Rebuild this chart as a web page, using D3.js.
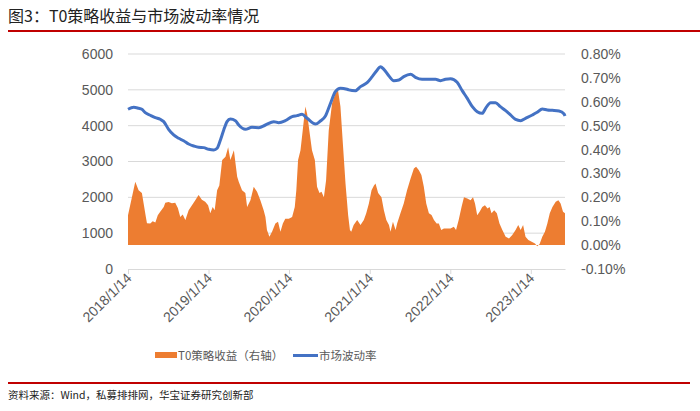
<!DOCTYPE html>
<html><head><meta charset="utf-8">
<script src="https://cdn.jsdelivr.net/npm/d3@7"></script>
<style>
html,body{margin:0;padding:0;background:#fff;}
svg{display:block;font-family:"Liberation Sans",Arial,"Noto Sans CJK SC",sans-serif;}
</style></head>
<body>
<svg id="c" width="700" height="411"></svg>
<script>
// T0 strategy return (%, right axis)
const t0Dates = ["2018-01-14","2018-02-16","2018-03-03","2018-03-18","2018-04-05","2018-04-10","2018-04-25","2018-05-06","2018-05-18","2018-05-29","2018-06-09","2018-06-25","2018-07-02","2018-07-17","2018-08-01","2018-08-16","2018-08-28","2018-09-08","2018-09-19","2018-10-01","2018-10-16","2018-10-31","2018-11-15","2018-11-30","2018-12-15","2018-12-30","2019-01-12","2019-01-22","2019-02-02","2019-02-11","2019-02-22","2019-03-04","2019-03-17","2019-04-01","2019-04-13","2019-04-23","2019-05-09","2019-05-24","2019-05-31","2019-06-15","2019-06-30","2019-07-08","2019-07-23","2019-08-07","2019-08-22","2019-09-06","2019-09-21","2019-09-29","2019-10-06","2019-10-17","2019-10-29","2019-11-13","2019-11-25","2019-12-06","2019-12-17","2019-12-28","2020-01-13","2020-01-28","2020-02-09","2020-02-16","2020-02-24","2020-03-06","2020-03-16","2020-03-28","2020-04-05","2020-04-15","2020-04-27","2020-05-10","2020-05-20","2020-05-31","2020-06-09","2020-06-20","2020-06-30","2020-07-12","2020-07-27","2020-08-11","2020-08-23","2020-09-03","2020-09-14","2020-09-26","2020-10-08","2020-10-16","2020-10-22","2020-11-02","2020-11-18","2020-12-03","2020-12-18","2020-12-29","2021-01-10","2021-01-22","2021-02-02","2021-02-09","2021-02-21","2021-03-08","2021-03-19","2021-03-30","2021-04-11","2021-04-18","2021-04-29","2021-05-11","2021-05-18","2021-06-02","2021-06-17","2021-07-02","2021-07-18","2021-08-02","2021-08-12","2021-08-24","2021-09-05","2021-09-16","2021-09-27","2021-10-09","2021-10-21","2021-11-01","2021-11-13","2021-11-23","2021-12-04","2021-12-16","2021-12-31","2022-01-15","2022-01-30","2022-02-09","2022-02-21","2022-03-06","2022-03-17","2022-04-01","2022-04-16","2022-04-27","2022-05-06","2022-05-16","2022-05-27","2022-06-08","2022-06-20","2022-07-02","2022-07-11","2022-07-20","2022-08-01","2022-08-13","2022-08-25","2022-09-07","2022-09-22","2022-10-07","2022-10-22","2022-11-06","2022-11-18","2022-11-29","2022-12-10","2022-12-21","2023-01-03","2023-01-18","2023-02-02","2023-02-12","2023-02-23","2023-03-07","2023-03-19","2023-03-30","2023-04-10","2023-04-22","2023-05-07","2023-05-19","2023-05-29","2023-06-09","2023-06-18"];
const t0Values = [0.125,0.265,0.23,0.218,0.118,0.092,0.09,0.1,0.095,0.125,0.14,0.16,0.177,0.18,0.175,0.177,0.155,0.118,0.128,0.105,0.146,0.167,0.188,0.21,0.19,0.181,0.167,0.133,0.16,0.146,0.23,0.25,0.356,0.37,0.41,0.356,0.397,0.286,0.265,0.23,0.218,0.16,0.188,0.244,0.223,0.188,0.146,0.118,0.063,0.035,0.056,0.09,0.098,0.056,0.09,0.11,0.11,0.118,0.16,0.23,0.356,0.397,0.48,0.58,0.55,0.48,0.397,0.356,0.244,0.218,0.223,0.2,0.272,0.48,0.593,0.635,0.648,0.58,0.425,0.258,0.125,0.063,0.056,0.084,0.105,0.084,0.105,0.133,0.174,0.23,0.25,0.258,0.218,0.2,0.146,0.105,0.084,0.056,0.098,0.063,0.09,0.133,0.174,0.23,0.279,0.321,0.328,0.314,0.293,0.244,0.174,0.133,0.126,0.105,0.09,0.09,0.063,0.07,0.07,0.07,0.077,0.063,0.105,0.16,0.2,0.195,0.188,0.2,0.174,0.125,0.14,0.16,0.167,0.153,0.16,0.133,0.146,0.133,0.09,0.063,0.035,0.028,0.042,0.063,0.084,0.063,0.084,0.035,0.021,0.014,0.007,-0.005,0.005,0.035,0.056,0.09,0.133,0.16,0.181,0.188,0.174,0.14,0.133];

// Market volatility (left axis)
const volDates = ["2018-01-14","2018-02-09","2018-03-03","2018-03-18","2018-04-02","2018-04-25","2018-05-18","2018-06-09","2018-06-25","2018-07-17","2018-08-09","2018-09-01","2018-09-23","2018-10-16","2018-11-08","2018-11-30","2018-12-23","2019-01-15","2019-02-07","2019-02-22","2019-03-09","2019-03-24","2019-04-08","2019-04-23","2019-05-16","2019-05-31","2019-06-30","2019-07-30","2019-08-30","2019-09-29","2019-11-06","2019-11-28","2019-12-28","2020-01-28","2020-02-19","2020-03-13","2020-04-05","2020-05-13","2020-06-04","2020-06-27","2020-07-20","2020-08-11","2020-09-03","2020-10-03","2020-10-11","2020-11-10","2020-12-03","2021-01-02","2021-01-25","2021-02-17","2021-03-03","2021-03-19","2021-04-11","2021-05-03","2021-05-26","2021-06-17","2021-07-18","2021-08-09","2021-09-08","2021-10-09","2021-11-08","2021-12-01","2021-12-23","2022-01-15","2022-02-14","2022-03-09","2022-04-01","2022-04-24","2022-05-16","2022-06-08","2022-06-23","2022-07-16","2022-08-07","2022-08-29","2022-09-22","2022-10-14","2022-11-06","2022-11-29","2022-12-21","2023-01-21","2023-02-12","2023-03-07","2023-03-30","2023-04-22","2023-05-22","2023-06-14","2023-06-18"];
const volValues = [4457,4513,4485,4457,4363,4290,4224,4178,4112,3898,3740,3647,3581,3489,3433,3396,3387,3340,3321,3368,3600,3880,4112,4186,4140,4019,3898,3954,3945,4019,4112,4084,4140,4252,4280,4317,4205,4047,4130,4270,4624,4949,5043,5015,5000,4977,5089,5200,5368,5554,5647,5572,5386,5256,5275,5368,5433,5349,5293,5293,5293,5256,5293,5312,5210,4977,4763,4530,4391,4344,4484,4642,4642,4530,4419,4298,4177,4140,4205,4298,4372,4465,4437,4428,4410,4326,4270];

const xTickDates = ["2018-01-14","2019-01-14","2020-01-14","2021-01-14","2022-01-14","2023-01-14"];
const xTickLabels = ["2018/1/14","2019/1/14","2020/1/14","2021/1/14","2022/1/14","2023/1/14"];
const leftTicks = [0,1000,2000,3000,4000,5000,6000];
const rightTicks = [-0.1,0,0.1,0.2,0.3,0.4,0.5,0.6,0.7,0.8];

const title = "图3：T0策略收益与市场波动率情况";
const source = "资料来源：Wind，私募排排网，华宝证券研究创新部";
const legendNames = ["T0策略收益（右轴）","市场波动率"];

const parse = d3.timeParse("%Y-%m-%d");
const svg = d3.select("#c");
const L = 128, R = 565, T = 54, B = 269;
const gray = "#595959";

const x = d3.scaleTime().domain([parse("2018-01-14"), parse("2023-06-18")]).range([L, R]);
const yL = d3.scaleLinear().domain([0, 6000]).range([B, T]);
const yR = d3.scaleLinear().domain([-0.1, 0.8]).range([B, T]);

// title
svg.append("text").attr("x", 8).attr("y", 22).attr("font-family", "'Noto Sans CJK SC',sans-serif")
  .attr("font-size", 16).attr("fill", "#222").text(title);
svg.append("line").attr("x1", 8).attr("x2", 700).attr("y1", 31).attr("y2", 31)
  .attr("stroke", "#C00000").attr("stroke-width", 2);

// gridlines
svg.append("g").selectAll("line").data(leftTicks.filter(d => d > 0)).join("line")
  .attr("x1", L).attr("x2", R).attr("y1", d => yL(d)).attr("y2", d => yL(d))
  .attr("stroke", "#D9D9D9").attr("stroke-width", 1);

// orange area
const t0 = t0Dates.map((d, i) => ({ d: parse(d), v: t0Values[i] }));
svg.append("path").datum(t0)
  .attr("d", d3.area().x(p => x(p.d)).y0(yR(0)).y1(p => yR(p.v)))
  .attr("fill", "#ED7D31");

// blue line
const vol = volDates.map((d, i) => ({ d: parse(d), v: volValues[i] }));
svg.append("path").datum(vol)
  .attr("d", d3.line().x(p => x(p.d)).y(p => yL(p.v)).curve(d3.curveMonotoneX))
  .attr("fill", "none").attr("stroke", "#4472C4").attr("stroke-width", 3).attr("stroke-linejoin", "round");

// x axis
const xAxis = d3.axisBottom(x).tickValues(xTickDates.map(parse))
  .tickFormat((d, i) => xTickLabels[i]).tickSize(5).tickSizeOuter(0);
const gx = svg.append("g").attr("transform", `translate(0,${B})`).call(xAxis);
gx.select(".domain").attr("stroke", "#D9D9D9");
gx.selectAll(".tick line").attr("stroke", "#D9D9D9");
gx.selectAll(".tick text").attr("font-size", 14).attr("fill", gray)
  .attr("text-anchor", "end").attr("dx", 0).attr("dy", 0)
  .attr("transform", "translate(4,10) rotate(-45)").attr("y", 0).attr("x", 0);

// left axis
const gl = svg.append("g").attr("transform", `translate(${L - 12},0)`)
  .call(d3.axisLeft(yL).tickValues(leftTicks).tickSize(0).tickFormat(d3.format("d")));
gl.select(".domain").remove();
gl.selectAll("text").attr("font-size", 14).attr("fill", gray);

// right axis
const gr = svg.append("g").attr("transform", `translate(${R + 13},0)`)
  .call(d3.axisRight(yR).tickValues(rightTicks).tickSize(0).tickFormat(d => d.toFixed(2) + "%"));
gr.select(".domain").remove();
gr.selectAll("text").attr("font-size", 14).attr("fill", gray);

// legend
const lg = svg.append("g").attr("font-family", "'Noto Sans CJK SC',sans-serif").attr("font-size", 11.5).attr("fill", gray);
lg.append("rect").attr("x", 155).attr("y", 352).attr("width", 22).attr("height", 6).attr("fill", "#ED7D31");
lg.append("text").attr("x", 178).attr("y", 359.5).text(legendNames[0]);
lg.append("line").attr("x1", 293).attr("x2", 318).attr("y1", 355.5).attr("y2", 355.5)
  .attr("stroke", "#4472C4").attr("stroke-width", 3);
lg.append("text").attr("x", 319).attr("y", 359.5).text(legendNames[1]);

// source
svg.append("line").attr("x1", 8).attr("x2", 690).attr("y1", 383).attr("y2", 383)
  .attr("stroke", "#C00000").attr("stroke-width", 2);
svg.append("text").attr("x", 8).attr("y", 399).attr("font-family", "'Noto Sans CJK SC',sans-serif")
  .attr("font-size", 10.5).attr("fill", "#222").text(source);
</script>
</body></html>
